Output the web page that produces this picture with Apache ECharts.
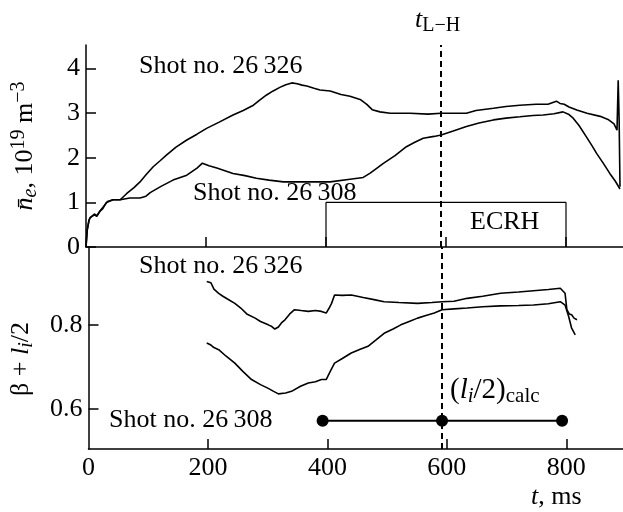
<!DOCTYPE html>
<html><head><meta charset="utf-8">
<script src="https://cdn.jsdelivr.net/npm/echarts@6/dist/echarts.min.js"></script>
<style>html,body{margin:0;padding:0;background:#fff}#c{width:623px;height:512px}</style>
</head><body><div id="c"></div>
<script>
const xTicks = [200, 400, 600, 800];
const xLabels = [0, 200, 400, 600, 800];
const neTicks = [0, 1, 2, 3, 4];
const betaTicks = [0.6, 0.8];
const tLH = 592;
const ecrh = [[400, 0], [400, 1], [800, 1], [800, 0]];
const liCalc = [[392, 0.572], [592, 0.572], [793, 0.572]];

const ne26326 = [[0,0],[2,0.38],[5,0.6],[7,0.66],[10,0.62],[14,0.72],[18,0.69],[23,0.8],[28,0.86],[34,1.0],[40,1.03],[45,1.06],[57,1.06],[68,1.2],[80,1.33],[90,1.46],[100,1.62],[112,1.8],[124,1.94],[134,2.06],[150,2.24],[168,2.4],[185,2.53],[201,2.66],[222,2.8],[245,2.96],[262,3.06],[279,3.18],[290,3.3],[301,3.41],[312,3.5],[323,3.58],[333,3.64],[343,3.68],[352,3.66],[360,3.63],[368,3.61],[380,3.56],[390,3.52],[407,3.5],[425,3.42],[440,3.38],[458,3.3],[468,3.2],[477,3.08],[490,3.03],[507,3.0],[540,3.0],[570,2.98],[592,3.0],[634,3.0],[650,3.06],[679,3.11],[700,3.15],[723,3.18],[750,3.2],[770,3.2],[784,3.27],[790,3.22],[797,3.2],[805,3.14],[818,3.07],[835,3.0],[857,2.93],[870,2.86],[880,2.76],[885,2.62],[887,3.74],[888.5,2.9],[890,1.35]];
const ne26308 = [[0,0],[2,0.38],[5,0.6],[7,0.66],[10,0.62],[14,0.74],[18,0.7],[24,0.82],[30,0.92],[36,1.02],[45,1.06],[57,1.06],[73,1.1],[90,1.1],[100,1.14],[107,1.22],[125,1.36],[145,1.5],[168,1.61],[185,1.77],[194,1.88],[205,1.82],[218,1.77],[245,1.65],[265,1.6],[284,1.54],[305,1.5],[329,1.46],[360,1.46],[407,1.46],[440,1.52],[462,1.56],[473,1.65],[485,1.77],[495,1.87],[515,2.05],[534,2.25],[548,2.35],[562,2.44],[580,2.48],[592,2.51],[612,2.6],[634,2.7],[655,2.78],[679,2.85],[700,2.89],[723,2.92],[745,2.95],[762,2.96],[780,2.99],[795,3.03],[805,2.97],[812,2.89],[822,2.72],[834,2.47],[843,2.28],[851,2.1],[862,1.88],[873,1.65],[882,1.48],[890,1.3]];

const b26326 = [[198,0.903],[205,0.9],[210,0.885],[218,0.875],[225,0.868],[232,0.862],[245,0.851],[255,0.84],[265,0.826],[279,0.816],[288,0.808],[301,0.8],[307,0.796],[312,0.79],[318,0.795],[324,0.806],[329,0.812],[337,0.826],[345,0.836],[356,0.834],[368,0.832],[380,0.834],[390,0.832],[398,0.828],[403,0.84],[407,0.851],[412,0.871],[425,0.87],[440,0.871],[460,0.865],[478,0.86],[495,0.855],[520,0.853],[551,0.851],[575,0.853],[592,0.855],[612,0.856],[634,0.863],[660,0.868],[690,0.875],[720,0.878],[745,0.881],[770,0.884],[790,0.887],[798,0.875],[801,0.836],[805,0.826],[809,0.824],[813,0.816],[818,0.812]];
const b26308 = [[198,0.757],[205,0.752],[210,0.746],[218,0.741],[230,0.726],[245,0.709],[258,0.69],[273,0.67],[288,0.658],[301,0.649],[310,0.642],[318,0.636],[330,0.638],[340,0.642],[355,0.654],[368,0.662],[380,0.665],[390,0.67],[398,0.67],[405,0.69],[412,0.709],[425,0.72],[440,0.733],[455,0.742],[468,0.749],[482,0.765],[495,0.78],[510,0.79],[523,0.8],[537,0.808],[551,0.816],[565,0.822],[579,0.828],[592,0.836],[612,0.838],[634,0.84],[660,0.843],[690,0.845],[720,0.846],[745,0.847],[770,0.85],[790,0.855],[798,0.847],[804,0.82],[809,0.792],[815,0.776]];

const F = 'Liberation Serif, Times New Roman, serif';
const FS = 26, SS = 20;
const chart = echarts.init(document.getElementById('c'), null, {renderer: 'canvas'});
const axisLine = {show: true, lineStyle: {color: '#000', width: 1.5}};
const grids = [
  {left: 86, top: 45, right: 0, height: 202},
  {left: 86, top: 247, right: 0, height: 202}
];
const xBase = (gi, labels) => ({
  type: 'value', gridIndex: gi, min: 0, max: 895,
  axisLine: axisLine,
  axisTick: {show: true, inside: true, length: 10, customValues: xTicks, lineStyle: {color: '#000', width: 1.5}},
  axisLabel: labels ? {show: true, customValues: xLabels, margin: 6, color: '#000', fontFamily: F, fontSize: FS} : {show: false},
  splitLine: {show: false}
});
const rich = {
  n: {fontFamily: F, fontSize: FS, color: '#000'},
  i: {fontFamily: F, fontSize: FS, fontStyle: 'italic', color: '#000'},
  sub: {fontFamily: F, fontSize: SS, color: '#000', padding: [11, 0, 0, 0]},
  isub: {fontFamily: F, fontSize: SS, fontStyle: 'italic', color: '#000', padding: [11, 0, 0, 0]},
  sup: {fontFamily: F, fontSize: SS, color: '#000', padding: [0, 0, 13, 0]},
  N: {fontFamily: F, fontSize: 29, color: '#000'},
  I: {fontFamily: F, fontSize: 29, fontStyle: 'italic', color: '#000'},
  ISUB: {fontFamily: F, fontSize: 21, fontStyle: 'italic', color: '#000', padding: [12, 0, 0, 0]},
  SUB: {fontFamily: F, fontSize: 21, color: '#000', padding: [12, 0, 0, 0]}
};
const txt = (x, y, text) => ({
  type: 'text', x: x, y: y, silent: true,
  style: {text: text, rich: rich, fill: '#000', font: FS + 'px ' + F, verticalAlign: 'middle', align: 'left'}
});

chart.setOption({
  animation: false,
  backgroundColor: '#fff',
  grid: grids,
  xAxis: [xBase(0, false), xBase(1, true)],
  yAxis: [
    {type: 'value', gridIndex: 0, min: 0, max: 4.53,
     axisLine: axisLine,
     axisTick: {show: true, inside: true, length: 10, customValues: neTicks, lineStyle: {color: '#000', width: 1.5}},
     axisLabel: {show: true, customValues: neTicks, margin: 6, color: '#000', fontFamily: F, fontSize: FS},
     splitLine: {show: false},
     name: '{i|n\u0304}{isub|e}{n|, 10}{sup|19}{n| m}{sup|\u22123}',
     nameLocation: 'middle', nameRotate: 90, nameGap: 44,
     nameTextStyle: {rich: rich}},
    {type: 'value', gridIndex: 1, min: 0.505, max: 0.985,
     axisLine: axisLine,
     axisTick: {show: true, inside: true, length: 10, customValues: betaTicks, lineStyle: {color: '#000', width: 1.5}},
     axisLabel: {show: true, customValues: betaTicks, margin: 6, color: '#000', fontFamily: F, fontSize: FS,
                 formatter: v => v.toFixed(1)},
     splitLine: {show: false},
     name: '{n|\u03b2 + }{i|l}{isub|i}{n|/2}',
     nameLocation: 'middle', nameRotate: 90, nameGap: 52,
     nameTextStyle: {rich: rich, padding: [0, 22, 0, 0]}}
  ],
  series: [
    {type: 'line', xAxisIndex: 0, yAxisIndex: 0, data: ne26326, showSymbol: false, lineStyle: {color: '#000', width: 1.6}},
    {type: 'line', xAxisIndex: 0, yAxisIndex: 0, data: ne26308, showSymbol: false, lineStyle: {color: '#000', width: 1.6}},
    {type: 'line', xAxisIndex: 0, yAxisIndex: 0, data: ecrh, showSymbol: false, lineStyle: {color: '#000', width: 1.2},
     markLine: {silent: true, symbol: 'none', label: {show: false}, lineStyle: {color: '#000', type: [6, 4], width: 2}, data: [{xAxis: tLH}]}},
    {type: 'line', xAxisIndex: 1, yAxisIndex: 1, data: b26326, showSymbol: false, lineStyle: {color: '#000', width: 1.6}},
    {type: 'line', xAxisIndex: 1, yAxisIndex: 1, data: b26308, showSymbol: false, lineStyle: {color: '#000', width: 1.6}},
    {type: 'line', xAxisIndex: 1, yAxisIndex: 1, data: liCalc, symbol: 'circle', symbolSize: 12, showSymbol: true,
     itemStyle: {color: '#000'}, lineStyle: {color: '#000', width: 2},
     markLine: {silent: true, symbol: 'none', label: {show: false}, lineStyle: {color: '#000', type: [6, 4], width: 2}, data: [{xAxis: tLH}]}}
  ],
  graphic: [
    txt(139, 66, 'Shot no. 26\u2009326'),
    txt(193, 193, 'Shot no. 26\u2009308'),
    txt(470, 222, 'ECRH'),
    txt(139, 266, 'Shot no. 26\u2009326'),
    txt(109, 420, 'Shot no. 26\u2009308'),
    txt(450, 390, '{N|(}{I|l}{ISUB|i}{N|/2)}{SUB|calc}'),
    txt(415, 20, '{i|t}{sub|L\u2212H}'),
    txt(531, 497, '{i|t}{n|, ms}')
  ]
});
</script></body></html>
